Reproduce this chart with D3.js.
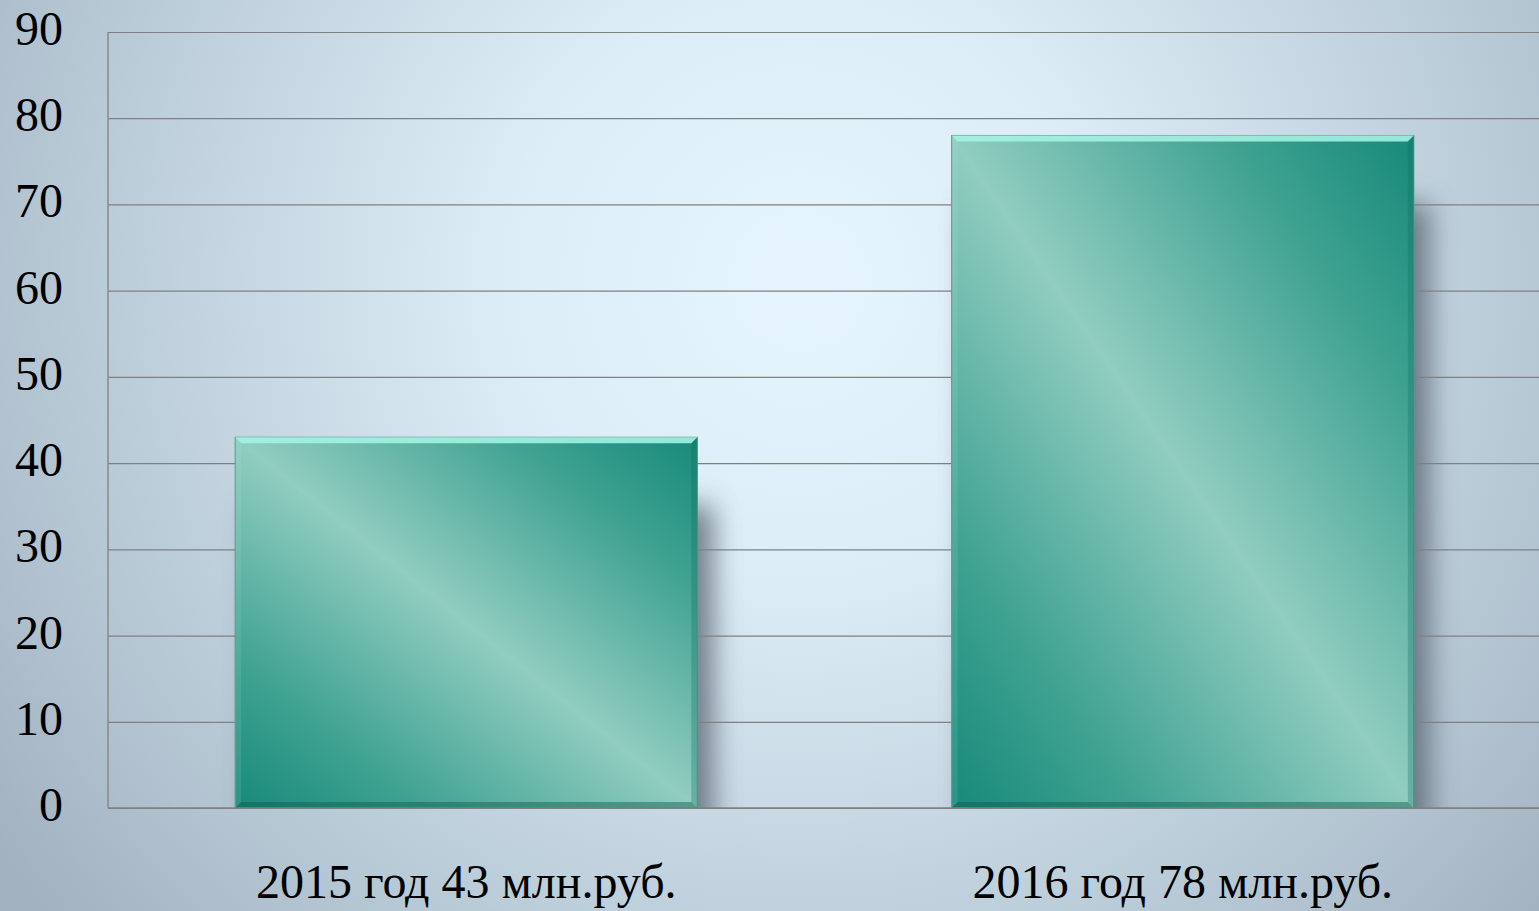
<!DOCTYPE html>
<html>
<head>
<meta charset="utf-8">
<script src="https://cdn.jsdelivr.net/npm/d3@7"></script>
<style>
  html, body { margin: 0; padding: 0; overflow: hidden; }
  .tickLabel text, .catLabel { font-family: "Liberation Serif", serif; fill: #000; }
</style>
</head>
<body>
<div id="chart"></div>
<script>
// data
var categories = ["2015 год 43 млн.руб.", "2016 год 78 млн.руб."];
var values = [43, 78];
var yTicks = [0, 10, 20, 30, 40, 50, 60, 70, 80, 90];

var width = 1539;
var height = 911;

var plotLeft = 108, plotRight = 1541, plotTop = 32, plotBottom = 808;

var svg = d3.select("#chart")
    .append("svg")
    .attr("width", width)
    .attr("height", height);

var defs = svg.append("defs");

// background
var bg = defs.append("radialGradient")
    .attr("id", "bg")
    .attr("gradientUnits", "userSpaceOnUse")
    .attr("cx", 800).attr("cy", 280).attr("r", 980);
bg.append("stop").attr("offset", "0").attr("stop-color", "#e6f5fd");
bg.append("stop").attr("offset", "0.3").attr("stop-color", "#dcedf7");
bg.append("stop").attr("offset", "0.7").attr("stop-color", "#bccdda");
bg.append("stop").attr("offset", "1").attr("stop-color", "#a2b2c1");

svg.append("rect")
    .attr("width", width).attr("height", height)
    .attr("fill", "url(#bg)");

// bar fill
var barGrad = defs.append("linearGradient")
    .attr("id", "barFill")
    .attr("x1", 1).attr("y1", 0).attr("x2", 0).attr("y2", 1);
barGrad.append("stop").attr("offset", "0").attr("stop-color", "#17897a");
barGrad.append("stop").attr("offset", "0.2").attr("stop-color", "#3fa291");
barGrad.append("stop").attr("offset", "0.5").attr("stop-color", "#91cdc1");
barGrad.append("stop").attr("offset", "0.8").attr("stop-color", "#3fa291");
barGrad.append("stop").attr("offset", "1").attr("stop-color", "#17897a");

var shadowBlur = defs.append("filter")
    .attr("id", "shadow")
    .attr("x", "-30%").attr("y", "-30%").attr("width", "160%").attr("height", "160%");
shadowBlur.append("feGaussianBlur").attr("stdDeviation", 14);

defs.append("clipPath").attr("id", "plotClip")
    .append("rect")
    .attr("x", plotLeft).attr("y", 0)
    .attr("width", width - plotLeft).attr("height", plotBottom);

// scales
var x = d3.scaleBand()
    .domain(categories)
    .range([plotLeft, plotRight])
    .paddingInner(0.355)
    .paddingOuter(0.1775);

var y = d3.scaleLinear()
    .domain([0, 90])
    .range([plotBottom, plotTop]);

// shadows behind bars
svg.append("g")
    .attr("clip-path", "url(#plotClip)")
    .selectAll("rect")
    .data(values)
    .enter()
    .append("rect")
    .attr("x", function(d, i) { return x(categories[i]) + 16; })
    .attr("y", function(d) { return y(d) + 68; })
    .attr("width", x.bandwidth())
    .attr("height", function(d) { return plotBottom - y(d); })
    .attr("fill", "#56636f")
    .attr("opacity", 0.8)
    .attr("filter", "url(#shadow)");

// grid lines
var grid = svg.append("g")
    .attr("transform", "translate(" + plotLeft + ",0)")
    .call(d3.axisLeft(y).tickValues(yTicks).tickSize(-(width - plotLeft)).tickFormat(""));
grid.select(".domain").remove();
grid.selectAll("line").attr("stroke", "#808080").attr("stroke-width", 1.2);

// axis line
svg.append("line")
    .attr("x1", plotLeft).attr("x2", plotLeft)
    .attr("y1", y(90)).attr("y2", y(0))
    .attr("stroke", "#8a8a8a").attr("stroke-width", 1.5);

// tick labels
var yAxis = svg.append("g")
    .attr("class", "tickLabel")
    .attr("transform", "translate(" + plotLeft + ",0)")
    .call(d3.axisLeft(y).tickValues(yTicks).tickSize(0).tickPadding(45));
yAxis.select(".domain").remove();
yAxis.selectAll("text")
    .attr("font-size", 48)
    .attr("dy", "0.26em");

// bars
var bars = svg.selectAll("g.bar")
    .data(values)
    .enter()
    .append("g")
    .attr("class", "bar");

bars.append("rect")
    .attr("x", function(d, i) { return x(categories[i]); })
    .attr("y", function(d) { return y(d); })
    .attr("width", x.bandwidth())
    .attr("height", function(d) { return plotBottom - y(d); })
    .attr("fill", "url(#barFill)")
    .attr("stroke", "#4c9a8c")
    .attr("stroke-width", 1);

var bevel = 6;

// bevel: top highlight
bars.append("path")
    .attr("d", function(d, i) {
        var x0 = x(categories[i]), x1 = x0 + x.bandwidth(), y0 = y(d), b = bevel;
        return "M" + x0 + "," + y0 + "L" + x1 + "," + y0 + "L" + (x1 - b) + "," + (y0 + b) + "L" + (x0 + b) + "," + (y0 + b) + "Z";
    })
    .attr("fill", "#a4f2e2")
    .attr("opacity", 0.9);

// bevel: right edge
bars.append("path")
    .attr("d", function(d, i) {
        var x0 = x(categories[i]), x1 = x0 + x.bandwidth(), y0 = y(d), b = bevel;
        return "M" + x1 + "," + y0 + "L" + x1 + "," + plotBottom + "L" + (x1 - b) + "," + (plotBottom - b) + "L" + (x1 - b) + "," + (y0 + b) + "Z";
    })
    .attr("fill", "#0f6e60")
    .attr("opacity", 0.3);

// bevel: left edge
bars.append("path")
    .attr("d", function(d, i) {
        var x0 = x(categories[i]), y0 = y(d), b = bevel;
        return "M" + x0 + "," + y0 + "L" + (x0 + b) + "," + (y0 + b) + "L" + (x0 + b) + "," + (plotBottom - b) + "L" + x0 + "," + plotBottom + "Z";
    })
    .attr("fill", "#b6ece0")
    .attr("opacity", 0.12);

// bevel: bottom edge
bars.append("path")
    .attr("d", function(d, i) {
        var x0 = x(categories[i]), x1 = x0 + x.bandwidth(), b = bevel;
        return "M" + x0 + "," + plotBottom + "L" + (x0 + b) + "," + (plotBottom - b) + "L" + (x1 - b) + "," + (plotBottom - b) + "L" + x1 + "," + plotBottom + "Z";
    })
    .attr("fill", "#0a5a4e")
    .attr("opacity", 0.45);

// bottom axis line
svg.append("line")
    .attr("x1", plotLeft).attr("x2", width)
    .attr("y1", plotBottom).attr("y2", plotBottom)
    .attr("stroke", "#808080").attr("stroke-width", 1.5);

// category labels
svg.selectAll("text.catLabel")
    .data(categories)
    .enter()
    .append("text")
    .attr("class", "catLabel")
    .attr("x", function(d) { return x(d) + x.bandwidth() / 2; })
    .attr("y", 898)
    .attr("text-anchor", "middle")
    .attr("font-size", 48)
    .text(function(d) { return d; });
</script>
</body>
</html>
